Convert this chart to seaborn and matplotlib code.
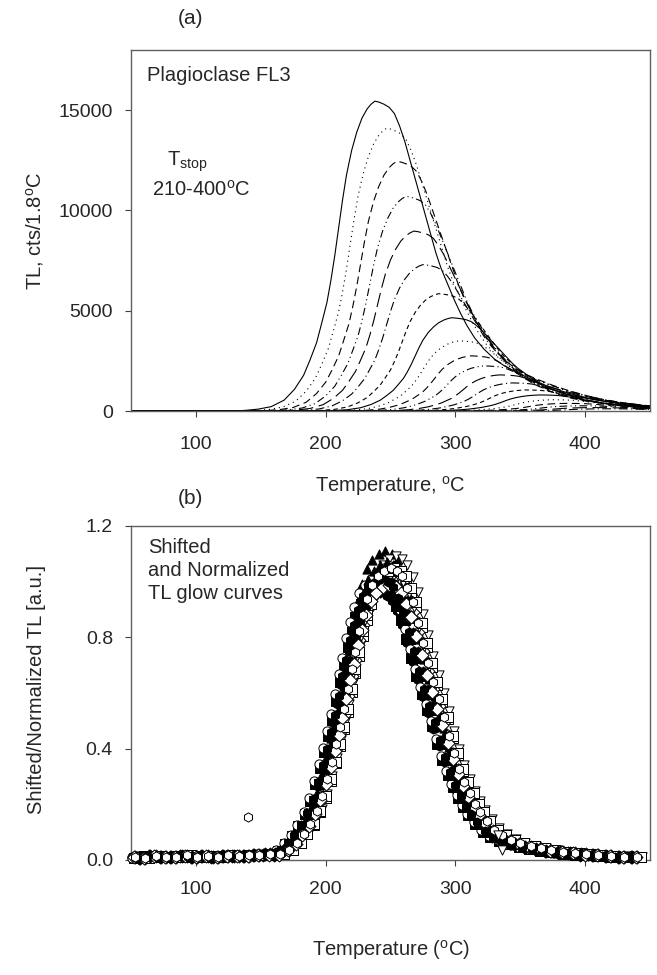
import numpy as np
import pandas as pd
import matplotlib
matplotlib.use("Agg")
import matplotlib.pyplot as plt
import seaborn as sns

sns.set_theme(style="ticks")
plt.rcParams["font.family"] = ["Liberation Sans", "DejaVu Sans"]
plt.rcParams["mathtext.fontset"] = "custom"
plt.rcParams["mathtext.rm"] = "Liberation Sans"
plt.rcParams["mathtext.it"] = "Liberation Sans:italic"

# ---------------- data ----------------
# panel (a): partial-heating glow curves, Tstop = 210..400 C
TSTOP = [210, 220, 230, 240, 250, 260, 270, 280, 290, 300,
         310, 320, 330, 340, 350, 360, 370, 380, 390, 400]
PEAK_T = [238, 247, 255, 262, 268, 275, 287, 297, 303, 312,
          322, 334, 344, 354, 365, 375, 385, 395, 405, 415]
PEAK_H = [15450, 14100, 12450, 10700, 8970, 7300, 5850, 4650, 3500, 2750,
          2250, 1800, 1400, 1050, 800, 560, 380, 260, 170, 110]
# normalised glow-curve shape (offset from peak, C) read from the Tstop=210 curve
SHAPE_DT = [-400, -110, -100, -90, -80, -70, -62, -55, -50, -45,
            -41, -37, -34, -31, -28, -25, -22, -18, -14, -10,
            -6, -3, 0, 3, 7, 11, 15, 19, 23, 27,
            31, 35, 39, 43, 47, 51, 56, 61, 66, 71,
            77, 84, 92, 100, 110, 120, 132, 145, 157, 170,
            183, 196, 212, 230, 250]
SHAPE_Y = [0, 0, 0.002, 0.006, 0.014, 0.035, 0.07, 0.115, 0.165, 0.22,
           0.284, 0.35, 0.42, 0.5, 0.59, 0.68, 0.76, 0.84, 0.9, 0.945,
           0.975, 0.99, 1.0, 0.997, 0.99, 0.98, 0.96, 0.92, 0.87, 0.81,
           0.75, 0.69, 0.63, 0.57, 0.51, 0.46, 0.41, 0.36, 0.315, 0.275,
           0.235, 0.2, 0.168, 0.145, 0.123, 0.103, 0.082, 0.063, 0.048, 0.036,
           0.027, 0.019, 0.012, 0.008, 0.005]

# panel (b): shifted / normalised curves (offset from 247 C)
B_CENTER = 247
B_DT = [-197, -189, -181, -173, -165, -157, -149, -141, -133, -125,
        -117, -109, -101, -93, -85, -78, -72, -67, -62, -57,
        -53, -49, -45, -42, -39, -36, -33, -30, -27, -24,
        -21, -18, -14, -10, -5, 0, 5, 9, 13, 17,
        21, 25, 29, 33, 37, 41, 45, 49, 53, 57,
        61, 65, 69, 74, 80, 86, 93, 100, 108, 116,
        124, 133, 142, 151, 160, 170, 180, 190]
B_Y = [0.012, 0.008, 0.014, 0.01, 0.012, 0.016, 0.01, 0.014, 0.012, 0.016,
       0.014, 0.016, 0.018, 0.02, 0.02, 0.035, 0.06, 0.09, 0.125, 0.17,
       0.22, 0.28, 0.34, 0.40, 0.46, 0.52, 0.59, 0.66, 0.72, 0.79,
       0.845, 0.9, 0.95, 0.98, 1.0, 1.01, 1.0, 0.98, 0.94, 0.89,
       0.82, 0.75, 0.68, 0.615, 0.555, 0.495, 0.43, 0.37, 0.315, 0.27,
       0.23, 0.195, 0.165, 0.135, 0.105, 0.085, 0.07, 0.058, 0.048, 0.04,
       0.034, 0.028, 0.024, 0.02, 0.017, 0.014, 0.012, 0.01]
B_SHIFT = [-4, 5, -1, 7, -6, 6, -2, 3, -5, 2, 1, -7, 0, 4, -3, 6, -1, 2, -4, 3]
B_SCALE = [0.96, 1.03, 1.1, 1.08, 0.97, 1.02, 0.98, 1.0, 0.95, 1.05,
           0.99, 1.01, 1.06, 1.02, 0.97, 1.04, 0.99, 0.98, 1.0, 1.04]
B_MARKER = ["o", "o", "^", "v", "s", "s", "D", "D", "h", "h"] * 2
B_FILLED = [True, False, True, False, True, False, True, False, True, False] * 2
# stray points
OUT_T = [140, 333, 336]
OUT_Y = [0.155, 0.09, 0.035]
OUT_MARKER = ["h", "v", "v"]

# ---------------- figure ----------------
FS = 14.5
fig = plt.figure(figsize=(6.57, 9.75), dpi=100)
ax1 = fig.add_axes([131 / 657, 1 - 411 / 975, 519 / 657, 361 / 975])
ax2 = fig.add_axes([131 / 657, 1 - 860 / 975, 519 / 657, 334 / 975])

# panel (a)
rows = []
for ts, tp, h in zip(TSTOP, PEAK_T, PEAK_H):
    for dt, y in zip(SHAPE_DT, SHAPE_Y):
        rows.append((ts, tp + dt, h * y))
dfa = pd.DataFrame(rows, columns=["Tstop", "T", "TL"])
dash_cycle = ["", (1, 3.5), (7, 4), (7, 3, 1, 3, 1, 3), (13, 5), (8, 3, 1, 3), (4, 3)]
dashes = [dash_cycle[i % len(dash_cycle)] for i in range(len(TSTOP))]
sns.lineplot(data=dfa, x="T", y="TL", style="Tstop", dashes=dashes, color="black",
             linewidth=0.8, estimator=None, sort=False, legend=False, ax=ax1)
ax1.set_xlim(50, 450)
ax1.set_ylim(0, 18000)
ax1.set_xticks([100, 200, 300, 400])
ax1.set_yticks([0, 5000, 10000, 15000])
ax1.set_xlabel("Temperature, $^{\\rm o}$C", fontsize=FS)
ax1.set_ylabel("TL, cts/1.8$^{\\rm o}$C", fontsize=FS)
ax1.text(0.031, 0.93, "Plagioclase FL3", transform=ax1.transAxes, fontsize=FS, va="center")
ax1.text(0.07, 0.69, "T$_{\\rm stop}$", transform=ax1.transAxes, fontsize=FS, va="center")
ax1.text(0.04, 0.612, "210-400$^{\\rm o}$C", transform=ax1.transAxes, fontsize=FS, va="center")

# panel (b)
for k in range(len(B_SHIFT)):
    xs = np.array(B_DT) + B_CENTER + B_SHIFT[k]
    ys = np.array(B_Y) * B_SCALE[k]
    keep = (xs >= 51) & (xs <= 446)
    fc = "black" if B_FILLED[k] else "white"
    sns.scatterplot(x=xs[keep], y=ys[keep], marker=B_MARKER[k], s=44,
                    facecolor=fc, edgecolor="black", linewidth=0.7,
                    clip_on=False, zorder=3 + k, ax=ax2)
for t, y, m in zip(OUT_T, OUT_Y, OUT_MARKER):
    ax2.scatter([t], [y], marker=m, s=44, facecolor="white", edgecolor="black",
                linewidth=0.7, zorder=30)
ax2.set_xlim(50, 450)
ax2.set_ylim(0, 1.2)
ax2.set_xticks([100, 200, 300, 400])
ax2.set_yticks([0.0, 0.4, 0.8, 1.2])
ax2.set_yticklabels(["0.0", "0.4", "0.8", "1.2"])
ax2.set_xlabel("Temperature ($^{\\rm o}$C)", fontsize=FS)
ax2.set_ylabel("Shifted/Normalized TL [a.u.]", fontsize=FS)
ax2.text(0.033, 0.963, "Shifted\nand Normalized\nTL glow curves", transform=ax2.transAxes,
         fontsize=FS, va="top", linespacing=1.25)

for ax, ylab_y, xlab_y, xpad in [(ax1, 0.5, -0.175, 14), (ax2, 0.51, -0.235, 11)]:
    for sp in ax.spines.values():
        sp.set_visible(True)
        sp.set_color("#606060")
        sp.set_linewidth(1.0)
    ax.tick_params(axis="both", direction="out", length=4, width=0.8, color="#404040",
                   labelsize=14, pad=9)
    ax.tick_params(axis="x", pad=xpad)
    ax.yaxis.set_label_coords(-0.163, ylab_y)
    ax.xaxis.set_label_coords(0.5, xlab_y)
    ax.set_facecolor("white")

fig.text(178 / 657, 1 - 18 / 975, "(a)", fontsize=FS + 0.5, va="center")
fig.text(178 / 657, 1 - 498 / 975, "(b)", fontsize=FS + 0.5, va="center")

fig.savefig("out.png", dpi=100)
